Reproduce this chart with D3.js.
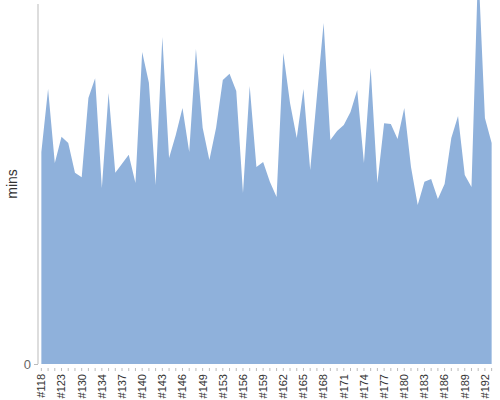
<!DOCTYPE html>
<html>
<head>
<meta charset="utf-8">
<script src="https://cdn.jsdelivr.net/npm/d3@7"></script>
<style>
  body { margin: 0; background: #fff; }
  svg { display: block; font-family: "Liberation Sans", Arial, sans-serif; }
</style>
</head>
<body>
<div id="chart"></div>
<script>
// build ids, every third one is labelled on the axis
const builds = ["#118", "#120", "#121", "#123", "#125", "#128", "#130", "#131", "#133", "#134",
    "#135", "#136", "#137", "#138", "#139", "#140", "#141", "#142", "#143", "#144",
    "#145", "#146", "#147", "#148", "#149", "#150", "#151", "#153", "#154", "#155",
    "#156", "#157", "#158", "#159", "#160", "#161", "#162", "#163", "#164", "#165",
    "#166", "#167", "#168", "#169", "#170", "#171", "#172", "#173", "#174", "#175",
    "#176", "#177", "#178", "#179", "#180", "#181", "#182", "#183", "#184", "#185",
    "#186", "#187", "#188", "#189", "#190", "#191", "#192", "#193"];

const durations = [58.9, 76.4, 55.8, 63.1, 61.4, 53.1, 51.9, 73.9, 79.4, 48.9,
    75.3, 53.1, 55.6, 58.1, 50.3, 86.7, 78.1, 49.7, 90.8, 57.2,
    63.6, 71.1, 58.9, 87.5, 65.6, 56.7, 65.6, 78.9, 80.6, 75.8,
    47.5, 77.2, 54.7, 56.1, 50.6, 46.4, 86.4, 72.5, 62.8, 76.4,
    53.9, 74.4, 94.7, 62.2, 64.7, 66.4, 70.0, 76.1, 55.8, 82.2,
    50.3, 66.9, 66.7, 62.5, 71.1, 54.7, 44.2, 50.6, 51.4, 45.8,
    50.0, 62.8, 68.9, 52.5, 49.2, 110.8, 68.3, 61.4];

const yMax = 100;
const yTicks = [0];

const width = 500, height = 400;
const margin = { top: 4, right: 5, bottom: 36, left: 38 };

const svg = d3.select("#chart").append("svg")
    .attr("width", width)
    .attr("height", height);

const x = d3.scaleBand()
    .domain(builds)
    .range([margin.left, width - margin.right]);

const y = d3.scaleLinear()
    .domain([0, yMax])
    .range([height - margin.bottom, margin.top]);

const area = d3.area()
    .x((d, i) => x(builds[i]) + x.bandwidth() / 2)
    .y0(y(0))
    .y1(d => y(d));

svg.append("path")
    .datum(durations)
    .attr("fill", "#8fb1db")
    .attr("d", area);

// y axis: plain line, only the zero tick
const yAxis = svg.append("g")
    .attr("transform", `translate(${margin.left},0)`)
    .call(d3.axisLeft(y).tickValues(yTicks).tickSize(4).tickPadding(3));
yAxis.select(".domain").attr("stroke", "#bbb").attr("d", `M0,${margin.top}V${y(0)}`);
yAxis.selectAll(".tick line").attr("stroke", "#bbb");
yAxis.selectAll(".tick text")
    .attr("fill", "#666")
    .style("font-size", "13px");

// x axis: tick on every build, label every third
const xAxis = svg.append("g")
    .attr("transform", `translate(0,${y(0) + 4})`)
    .call(d3.axisBottom(x).tickSize(3).tickPadding(3)
        .tickFormat((d, i) => i % 3 === 0 ? d : ""));
xAxis.select(".domain").remove();
xAxis.selectAll(".tick line").attr("stroke", "#bbb");
xAxis.selectAll(".tick text")
    .attr("fill", "#333")
    .style("font-size", "11px")
    .attr("text-anchor", "end")
    .attr("dy", "0.35em")
    .attr("transform", "rotate(-90)")
    .attr("x", -6)
    .attr("y", 0);

svg.append("text")
    .attr("transform", `translate(17,${(margin.top + y(0)) / 2}) rotate(-90)`)
    .attr("text-anchor", "middle")
    .attr("fill", "#333")
    .style("font-size", "14px")
    .text("mins");
</script>
</body>
</html>
